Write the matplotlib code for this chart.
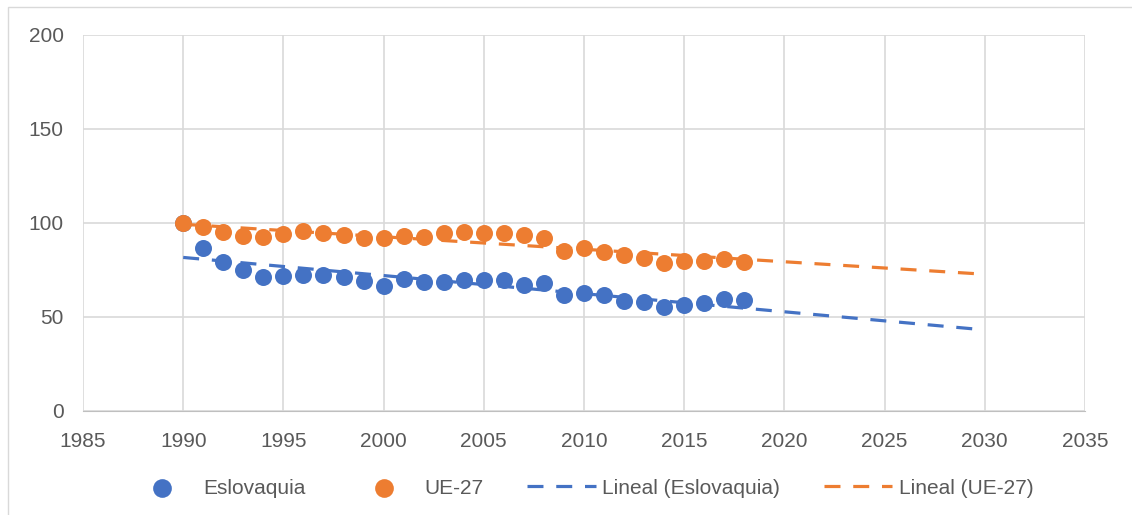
import numpy as np
import matplotlib
matplotlib.use("Agg")
import matplotlib.pyplot as plt
from matplotlib.patches import Rectangle

# data (index 1990 = 100)
years = list(range(1990, 2019))
eslovaquia = [100, 86.9, 79.4, 75.0, 71.4, 72.0, 72.3, 72.3, 71.1, 69.1,
              66.6, 70.2, 68.4, 68.4, 69.7, 69.7, 69.7, 67.0, 67.9, 61.7,
              62.9, 61.7, 58.5, 58.1, 55.5, 56.4, 57.3, 59.4, 59.0]
ue27 = [100, 97.9, 95.2, 93.3, 92.7, 94.0, 95.7, 94.5, 93.6, 92.2,
        92.2, 93.3, 92.7, 94.8, 95.0, 94.5, 94.5, 93.6, 91.8, 85.3,
        86.9, 84.7, 83.0, 81.2, 78.5, 79.8, 79.8, 80.7, 79.1]
trend_years = [1990, 2030]
labels = ["Eslovaquia", "UE-27", "Lineal (Eslovaquia)", "Lineal (UE-27)"]

blue = "#4472c4"
orange = "#ed7d31"

plt.rcParams['font.family'] = ['Liberation Sans', 'DejaVu Sans']

fig = plt.figure(figsize=(11.32, 5.15), dpi=100)
fig.patches.append(Rectangle((8 / 1132, -0.1), 1.2, (515 - 7) / 515 + 0.1,
                             transform=fig.transFigure, fill=False,
                             edgecolor="#d9d9d9", linewidth=1))
ax = fig.add_axes([83 / 1132, 1 - 411 / 515, 1002 / 1132, 376 / 515])

x = np.array(years)
tx = np.array(trend_years, dtype=float)

p1 = ax.scatter(years, eslovaquia, s=150, color=blue, zorder=3, linewidths=0)
p2 = ax.scatter(years, ue27, s=150, color=orange, zorder=3, linewidths=0)

# linear trendlines fitted on the series
c1 = np.polyfit(x, np.array(eslovaquia), 1)
c2 = np.polyfit(x, np.array(ue27), 1)
l1, = ax.plot(tx, np.polyval(c1, tx), color=blue, lw=2.3, dashes=(5, 4), zorder=4)
l2, = ax.plot(tx, np.polyval(c2, tx), color=orange, lw=2.3, dashes=(5, 4), zorder=4)

ax.set_xlim(1985, 2035)
ax.set_ylim(0, 200)
ax.set_xticks(range(1985, 2036, 5))
ax.set_yticks(range(0, 201, 50))
ax.grid(True, color="#d9d9d9", linewidth=1.2)
ax.set_axisbelow(True)
for s in ["top", "right", "left"]:
    ax.spines[s].set_visible(False)
ax.spines["bottom"].set_color("#bfbfbf")
ax.tick_params(length=0, labelsize=15, colors="#595959")
ax.tick_params(axis="x", pad=15)
ax.tick_params(axis="y", pad=14)

fig.legend([p1, p2, l1, l2], labels, loc="center", bbox_to_anchor=(0.513, 1 - 488 / 515),
           ncol=4, frameon=False, fontsize=15, labelcolor="#595959",
           handlelength=3.3, columnspacing=2.1, handletextpad=0.3, markerscale=1.1)

plt.savefig("out.png", dpi=100)
